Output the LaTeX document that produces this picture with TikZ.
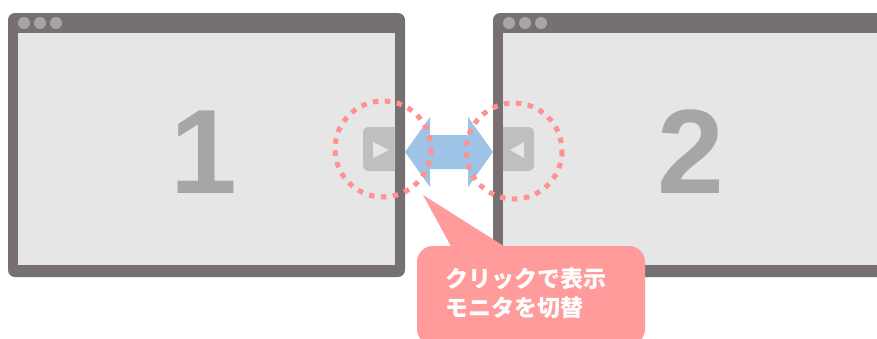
\documentclass[tikz,border=0pt]{standalone}
\usepackage{fontspec}
\setmainfont{Liberation Sans}
\newfontfamily\cjk{Noto Sans CJK JP}
\definecolor{frame}{HTML}{767170}
\definecolor{screen}{HTML}{E6E6E6}
\definecolor{tdot}{HTML}{A6A6A6}
\definecolor{btn}{HTML}{BFBFBF}
\definecolor{arrowblue}{HTML}{9DC3E6}
\definecolor{salmon}{HTML}{FF9191}
\definecolor{callout}{HTML}{FF9B9B}
\definecolor{numgray}{HTML}{A6A6A6}
\tikzset{
  outerbox/.style={fill=frame, rounded corners=7pt},
  innerbox/.style={fill=screen},
  titledot/.style={fill=tdot},
  btnbox/.style={fill=btn, rounded corners=5pt},
  btntri/.style={fill=screen},
  dotring/.style={draw=salmon, line width=5pt, dash pattern=on 5.5pt off 6.5pt},
  bignum/.style={font=\bfseries\fontsize{120}{120}\selectfont, text=numgray, inner sep=0pt, anchor=base},
  calltext/.style={font=\cjk\bfseries\fontsize{23}{29}\selectfont, text=white, inner sep=0pt, anchor=base west},
}
\begin{document}
\begin{tikzpicture}[x=1pt,y=-1pt]
\useasboundingbox (0,0) rectangle (877,338);
% left window
\path[outerbox] (8,13) rectangle (405,277);
\path[innerbox] (18,33) rectangle (395,265);
\foreach \x in {24,40,56} \path[titledot] (\x,23) circle (6);
\begin{scope}
\clip (18,33) rectangle (395,265);
\path[btnbox] (363,127) rectangle (405,171);
\path[btntri] (373,142) -- (373,158) -- (389,150) -- cycle;
\end{scope}
\node[bignum] (one) at (204,193) {1};
% right window
\path[outerbox] (493,13) rectangle (900,277);
\path[innerbox] (503,33) rectangle (900,265);
\foreach \x in {509,525,541} \path[titledot] (\x,23) circle (6);
\begin{scope}
\clip (503,33) rectangle (900,265);
\path[btnbox] (490,127) rectangle (534,171);
\path[btntri] (524,142) -- (524,158) -- (510,150) -- cycle;
\end{scope}
\node[bignum] (two) at (691,193) {2};
% double arrow
\path[fill=arrowblue] (405,152) -- (430,117) -- (430,135) -- (468,135) -- (468,117)
  -- (493,152) -- (468,187) -- (468,169) -- (430,169) -- (430,187) -- cycle;
% dotted rings
\draw[dotring] (383,149) circle (48);
\draw[dotring] (514,151) circle (48);
% callout
\path[fill=callout, rounded corners=16pt] (417,246) rectangle (645,345);
\path[fill=callout] (423,195) -- (453,250) -- (510,250) -- cycle;
\node[calltext] (l1) at (445,287) {クリックで表示};
\node[calltext] (l2) at (445,316) {モニタを切替};
\end{tikzpicture}
\end{document}
